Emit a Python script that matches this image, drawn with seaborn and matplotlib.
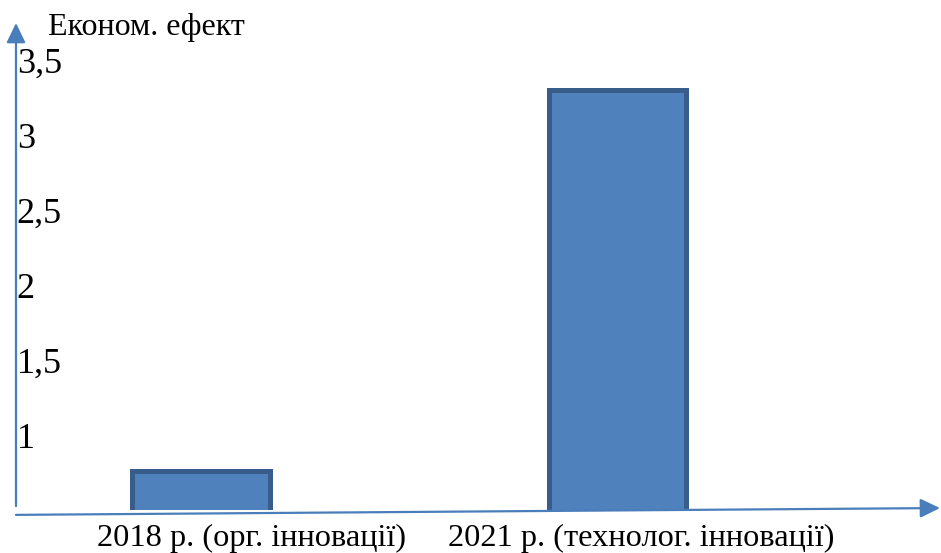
import matplotlib
matplotlib.use("Agg")
import matplotlib.pyplot as plt
import seaborn as sns
import pandas as pd

# data
categories = ['2018 р. (орг. інновації)', '2021 р. (технолог. інновації)']
effect = [0.76, 3.30]
ytick_vals = [1, 1.5, 2, 2.5, 3, 3.5]
ytick_labels = ['1', '1,5', '2', '2,5', '3', '3,5']
ylabel_text = 'Економ. ефект'

sns.set_style('white')
plt.rcParams['font.family'] = ['Liberation Serif', 'DejaVu Serif']
plt.rcParams['text.color'] = 'black'
plt.rcParams['ytick.color'] = 'black'
plt.rcParams['ytick.labelcolor'] = 'black'

W, H = 941, 553
fig = plt.figure(figsize=(W / 100, H / 100), dpi=100)
# axes box in pixel terms: left 16, right 940, bottom 510, top 23
ax = fig.add_axes([16 / W, (H - 510) / H, (940 - 16) / W, (510 - 23) / H])

df = pd.DataFrame({'cat': categories, 'val': effect})
sns.barplot(data=df, x='cat', y='val', ax=ax, width=0.33,
            color='#4f81bd', saturation=1, edgecolor='#385d8a', linewidth=3.6)

ax.set_ylim(0.5, 0.5 + 487 / 150)
ax.set_xlim(-0.445, 1.776)
ax.set_yticks(ytick_vals)
ax.set_yticklabels(ytick_labels, fontsize=26, color='black')
ax.tick_params(axis='y', length=0, pad=-0.5)
for t in ax.get_yticklabels():
    t.set_horizontalalignment('left')
ax.set_xticks([])
ax.set_xlabel('')
ax.set_ylabel('')
for s in ax.spines.values():
    s.set_visible(False)

axis_col = '#4a7ebb'
arrow = dict(arrowstyle='-|>,head_length=0.6,head_width=0.29', color=axis_col,
             lw=1.6, mutation_scale=20, shrinkA=0, shrinkB=0)
# y axis arrow
ax.annotate('', xy=(0, 1.0), xytext=(0, 0.008), xycoords='axes fraction',
            arrowprops=arrow, annotation_clip=False)
# x axis arrow (slightly tilted, as in the original drawing)
ax.annotate('', xy=(1.0, 0.004), xytext=(0, -0.010), xycoords='axes fraction',
            arrowprops=arrow, annotation_clip=False)

# axis title and category labels
fig.text(48 / W, 1 - 27 / H, ylabel_text, fontsize=23, ha='left', va='center',
         color='black')
label_x = [252, 641]
for lx, c in zip(label_x, categories):
    fig.text(lx / W, 1 - 546 / H, c, fontsize=23.3, ha='center', va='baseline',
             color='black')

fig.savefig('out.png', dpi=100)
